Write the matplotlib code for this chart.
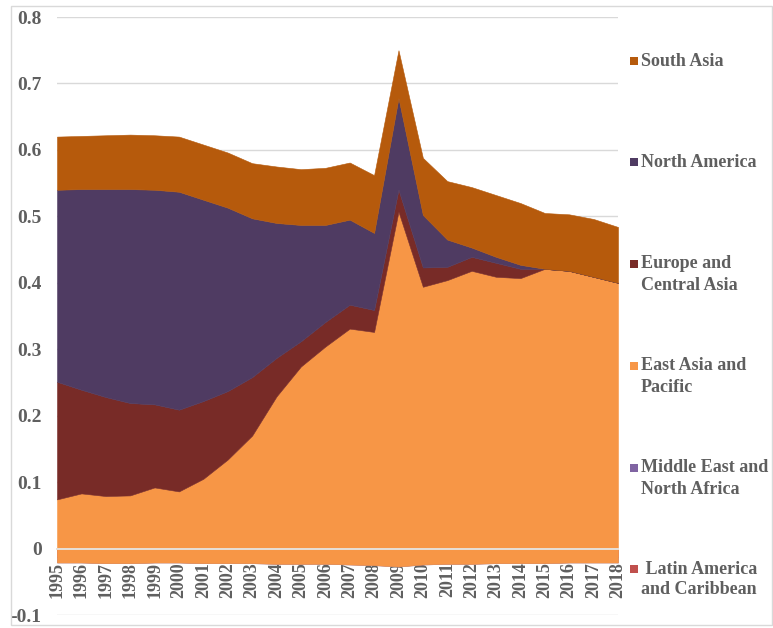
import matplotlib
matplotlib.use("Agg")
import matplotlib.pyplot as plt
from matplotlib.patches import Rectangle
import numpy as np

years = list(range(1995, 2019))

latin_america = [-0.013, -0.013, -0.014, -0.014, -0.013, -0.013, -0.014, -0.014, -0.014, -0.015, -0.015, -0.015,
                 -0.016, -0.017, -0.018, -0.016, -0.015, -0.015, -0.014, -0.014, -0.014, -0.013, -0.013, -0.013]
middle_east = [-0.008, -0.008, -0.008, -0.008, -0.008, -0.008, -0.008, -0.008, -0.008, -0.008, -0.008, -0.008,
               -0.008, -0.008, -0.009, -0.008, -0.008, -0.008, -0.008, -0.008, -0.008, -0.008, -0.008, -0.008]
east_asia = [0.095, 0.104, 0.101, 0.102, 0.113, 0.107, 0.127, 0.156, 0.192, 0.252, 0.297, 0.327,
             0.355, 0.351, 0.534, 0.418, 0.427, 0.441, 0.431, 0.429, 0.443, 0.439, 0.430, 0.421]
europe = [0.177, 0.156, 0.149, 0.139, 0.125, 0.123, 0.117, 0.103, 0.088, 0.058, 0.038, 0.037,
          0.036, 0.033, 0.033, 0.029, 0.020, 0.021, 0.021, 0.014, 0.0, 0.0, 0.0, 0.0]
north_america = [0.289, 0.302, 0.313, 0.322, 0.323, 0.328, 0.303, 0.276, 0.239, 0.203, 0.175, 0.146,
                 0.128, 0.116, 0.138, 0.079, 0.041, 0.014, 0.009, 0.006, 0.0, 0.0, 0.0, 0.0]
south_asia = [0.080, 0.080, 0.081, 0.082, 0.082, 0.083, 0.083, 0.083, 0.083, 0.085, 0.084, 0.086,
              0.086, 0.087, 0.072, 0.086, 0.088, 0.091, 0.093, 0.093, 0.084, 0.085, 0.087, 0.084]

series_labels = ["Latin America\nand Caribbean", "Middle East and\nNorth Africa", "East Asia and\nPacific",
                 "Europe and\nCentral Asia", "North America", "South Asia"]
colors = ["#C0504D", "#8064A2", "#F79646", "#782B27", "#4F3B62", "#B65A0C"]

y_ticks = [-0.1, 0, 0.1, 0.2, 0.3, 0.4, 0.5, 0.6, 0.7, 0.8]
y_tick_labels = ["-0.1", "0", "0.1", "0.2", "0.3", "0.4", "0.5", "0.6", "0.7", "0.8"]

W, H = 773, 628
fig = plt.figure(figsize=(W / 100, H / 100), dpi=100)
fig.patch.set_facecolor("white")

# chart border
fig.patches.append(Rectangle((11 / W, 1 - 625 / H), (772 - 11) / W, (625 - 6) / H,
                             transform=fig.transFigure, fill=False, edgecolor="#D9D9D9", linewidth=1.0))

ax = fig.add_axes([57 / W, 1 - 615 / H, (618 - 57) / W, (615 - 17) / H])
ax.set_xlim(1995, 2018)
ax.set_ylim(-0.1, 0.8)

data = [latin_america, middle_east, east_asia, europe, north_america, south_asia]
polys = ax.stackplot(years, *data, colors=colors, linewidth=0, zorder=2)
for p, c in zip(polys, colors):
    p.set_edgecolor(c)
    p.set_linewidth(0.4)

# gridlines
ax.set_yticks(y_ticks)
ax.set_yticklabels(y_tick_labels)
ax.yaxis.grid(True, color="#D9D9D9", linewidth=1.0, zorder=0)
ax.set_axisbelow(True)

for s in ["top", "right", "left"]:
    ax.spines[s].set_visible(False)
ax.spines["bottom"].set_position(("data", 0))
ax.spines["bottom"].set_color("#E6E0D8")
ax.spines["bottom"].set_linewidth(1.4)
ax.spines["bottom"].set_zorder(5)

ax.set_xticks(years)
ax.set_xticklabels([str(y) for y in years], rotation=90)
ax.tick_params(axis="x", length=0, pad=10)
ax.tick_params(axis="y", length=0, pad=11)

text_color = "#5F5F5F"
font = dict(family="Liberation Serif", weight="bold", color=text_color)
for lab in ax.get_xticklabels():
    lab.set_fontfamily("Liberation Serif")
    lab.set_fontweight("bold")
    lab.set_color(text_color)
    lab.set_fontsize(13)
for lab in ax.get_yticklabels():
    lab.set_fontfamily("Liberation Serif")
    lab.set_fontweight("bold")
    lab.set_color(text_color)
    lab.set_fontsize(14)

# legend (top entry = top series)
legend_y = [61, 162, 264, 366, 468, 569]
order = list(range(len(series_labels)))[::-1]
for yy, idx in zip(legend_y, order):
    lab = series_labels[idx]
    fig.patches.append(Rectangle((630 / W, 1 - (yy + 4) / H), 8 / W, 8 / H,
                                 transform=fig.transFigure, facecolor=colors[idx], edgecolor="none"))
    lines = lab.split("\n")
    if idx == 0:
        lines[0] = " " + lines[0]
    for k, line in enumerate(lines):
        fig.text(641 / W, 1 - (yy + 21 * k) / H, line, ha="left", va="center", fontsize=13, **font)

fig.savefig("out.png", dpi=100, facecolor="white")
